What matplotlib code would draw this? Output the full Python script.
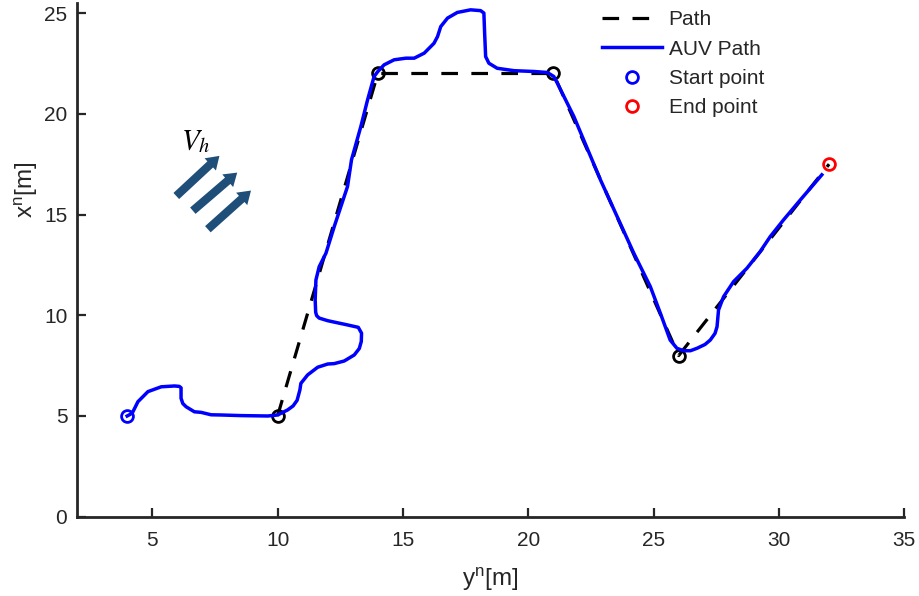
import numpy as np
import matplotlib
matplotlib.use("Agg")
import matplotlib.pyplot as plt

plt.rcParams['font.family'] = ['Liberation Sans', 'DejaVu Sans']
plt.rcParams['font.size'] = 15

# reference path through the waypoints (horizontal = y^n, vertical = x^n)
path_yn = [10, 14, 21, 26, 32]
path_xn = [5, 22, 22, 8, 17.5]

# intermediate waypoints
wp_yn = [10, 14, 21, 26]
wp_xn = [5, 22, 22, 8]

start_pt = (4, 5)
end_pt = (32, 17.5)

# vehicle trajectory
auv_yn = [4.00, 4.12, 4.23, 4.43, 4.83, 5.36, 5.89, 6.08, 6.15, 6.15, 6.22, 6.35, 6.68,
          6.95, 7.35, 7.75, 8.54, 9.61, 10.00, 10.40, 10.62, 10.78, 10.89, 10.93, 11.20,
          11.60, 12.00, 12.26, 12.66, 13.06, 13.26, 13.34, 13.35, 13.22, 12.79, 12.00,
          11.66, 11.56, 11.52, 11.50, 11.53, 11.66, 11.93, 12.26, 12.79, 12.95, 13.32,
          13.59, 13.85, 14.00, 14.25, 14.65, 15.12, 15.45, 15.85, 16.24, 16.38, 16.51,
          16.78, 17.17, 17.70, 18.10, 18.23, 18.26, 18.30, 18.43, 18.76, 19.43, 20.22,
          20.76, 21.02, 21.16, 21.82, 22.88, 24.21, 24.87, 25.27, 25.66, 25.93, 26.20,
          26.47, 26.73, 27.05, 27.26, 27.45, 27.53, 27.59, 27.79, 28.19, 28.72, 29.25,
          29.65, 30.18, 30.85, 31.71]
auv_xn = [5.00, 5.08, 5.21, 5.71, 6.21, 6.45, 6.49, 6.47, 6.40, 5.88, 5.62, 5.46, 5.21,
          5.18, 5.06, 5.05, 5.02, 5.00, 5.05, 5.30, 5.50, 5.78, 6.29, 6.62, 7.04,
          7.42, 7.58, 7.60, 7.73, 8.03, 8.35, 8.70, 9.11, 9.40, 9.52, 9.73,
          9.86, 9.98, 10.15, 10.76, 11.75, 12.41, 13.08, 14.40, 16.39, 17.72, 19.36,
          20.69, 21.85, 22.10, 22.43, 22.68, 22.76, 22.76, 23.01, 23.50, 23.83, 24.33,
          24.75, 25.03, 25.16, 25.12, 25.00, 24.00, 22.84, 22.51, 22.26, 22.14, 22.10,
          22.05, 21.85, 21.52, 19.86, 16.72, 13.08, 11.42, 10.10, 8.77, 8.36, 8.24,
          8.24, 8.36, 8.55, 8.77, 9.10, 9.43, 10.26, 10.92, 11.67, 12.33, 13.16,
          13.90, 14.73, 15.72, 16.97]

# current direction arrows (tail, head)
arrow_tails = [(5.96, 15.92), (6.62, 15.19), (7.22, 14.27)]
arrow_heads = [(7.68, 17.91), (8.39, 17.08), (8.94, 16.19)]

fig = plt.figure(figsize=(9.19, 5.96), dpi=100)
ax = fig.add_axes([0.0838, 0.133, 0.9002, 0.862])

ax.plot(path_yn, path_xn, color='black', lw=2.3, ls=(0, (5.2, 4.2)), label='Path', zorder=2)
ax.plot(auv_yn, auv_xn, color='blue', lw=2.5, label='AUV Path', zorder=3,
        solid_joinstyle='round')
ax.plot(wp_yn, wp_xn, 'o', mfc='none', mec='black', ms=8.5, mew=2, zorder=2)
ax.plot(*start_pt, 'o', mfc='none', mec='blue', ms=8.5, mew=2, ls='none',
        label='Start point', zorder=4)
ax.plot(*end_pt, 'o', mfc='none', mec='red', ms=8.5, mew=2, ls='none',
        label='End point', zorder=4)

for tail, head in zip(arrow_tails, arrow_heads):
    ax.annotate('', xy=head, xytext=tail,
                arrowprops=dict(facecolor='#1f4e79', edgecolor='none',
                                width=6, headwidth=12, headlength=9, shrink=0))
ax.text(6.75, 18.65, r'$V_h$', math_fontfamily='stix', fontsize=21,
        ha='center', va='center')

ax.set_xlim(2, 35)
ax.set_ylim(0, 25.5)
ax.set_xticks([5, 10, 15, 20, 25, 30, 35])
ax.set_yticks([0, 5, 10, 15, 20, 25])

for side in ['top', 'right']:
    ax.spines[side].set_visible(False)
for side in ['left', 'bottom']:
    ax.spines[side].set_linewidth(2)
    ax.spines[side].set_color('#262626')
ax.tick_params(direction='in', length=6.5, width=1.6, colors='#262626', labelsize=15)
ax.tick_params(axis='x', pad=10.5)
ax.tick_params(axis='y', pad=7)

ax.set_xlabel(r'y$^\mathregular{n}$[m]', fontsize=17.5, color='#262626', labelpad=11)
ax.set_ylabel(r'x$^\mathregular{n}$[m]', fontsize=17.5, color='#262626')
ax.yaxis.set_label_coords(-0.045, 0.636)

leg = ax.legend(loc='upper left', bbox_to_anchor=(0.655, 0.983), bbox_transform=fig.transFigure,
                frameon=False, fontsize=15, handlelength=2.9, handletextpad=0.3,
                labelspacing=0.5, borderpad=0, borderaxespad=0)
for t in leg.get_texts():
    t.set_color('#262626')

fig.savefig('out.png', dpi=100)
